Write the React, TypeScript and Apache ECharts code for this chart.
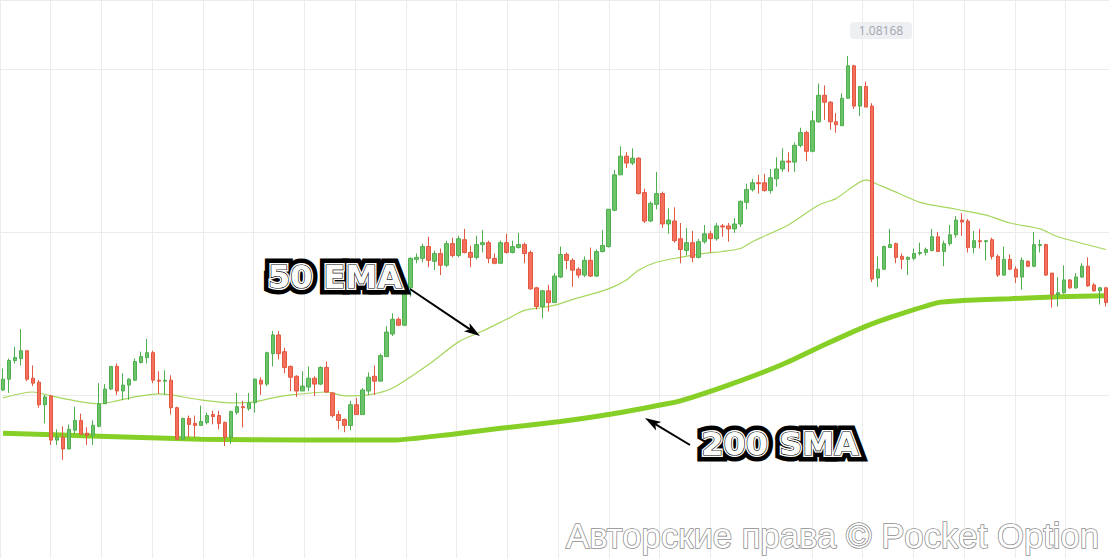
import React, { useEffect, useRef } from "react";
import * as echarts from "echarts";

// Candle prices
const opens = [
1.08108,1.08119,1.08138,1.08140,1.08148,1.08120,1.08116,1.08093,1.08102,1.08057,
1.08060,1.08048,1.08067,1.08077,1.08064,1.08062,1.08071,1.08094,1.08109,1.08132,
1.08107,1.08113,1.08118,1.08136,1.08141,1.08146,1.08118,1.08117,1.08118,1.08090,
1.08058,1.08079,1.08074,1.08072,1.08075,1.08083,1.08082,1.08075,1.08060,1.08085,
1.08091,1.08089,1.08095,1.08118,1.08114,1.08145,1.08164,1.08147,1.08132,1.08122,
1.08107,1.08111,1.08120,1.08114,1.08131,1.08105,1.08083,1.08078,1.08072,1.08093,
1.08083,1.08107,1.08122,1.08117,1.08142,1.08165,1.08180,1.08174,1.08212,1.08241,
1.08242,1.08254,1.08239,1.08247,1.08235,1.08257,1.08245,1.08261,1.08248,1.08243,
1.08256,1.08258,1.08242,1.08237,1.08258,1.08248,1.08253,1.08256,1.08248,1.08212,
1.08193,1.08209,1.08197,1.08223,1.08246,1.08240,1.08231,1.08225,1.08240,1.08224,
1.08249,1.08254,1.08291,1.08327,1.08346,1.08339,1.08344,1.08309,1.08280,1.08297,
1.08308,1.08277,1.08280,1.08262,1.08250,1.08258,1.08243,1.08259,1.08267,1.08262,
1.08275,1.08275,1.08272,1.08277,1.08299,1.08312,1.08319,1.08319,1.08311,1.08323,
1.08333,1.08341,1.08340,1.08357,1.08370,1.08351,1.08381,1.08408,1.08401,1.08381,
1.08377,1.08405,1.08438,1.08397,1.08417,1.08397,1.08222,1.08231,1.08253,1.08257,
1.08244,1.08241,1.08242,1.08247,1.08248,1.08250,1.08264,1.08249,1.08257,1.08266,
1.08281,1.08280,1.08253,1.08260,1.08259,1.08261,1.08244,1.08225,1.08241,1.08231,
1.08223,1.08239,1.08234,1.08255,1.08256,1.08227,1.08205,1.08207,1.08220,1.08212,
1.08223,1.08234,1.08215,1.08209,1.08212];

const closes = [
1.08119,1.08138,1.08141,1.08148,1.08119,1.08115,1.08093,1.08101,1.08057,1.08060,
1.08048,1.08068,1.08077,1.08063,1.08062,1.08072,1.08094,1.08109,1.08132,1.08107,
1.08113,1.08119,1.08137,1.08142,1.08146,1.08118,1.08117,1.08118,1.08090,1.08058,
1.08079,1.08073,1.08072,1.08076,1.08082,1.08081,1.08074,1.08060,1.08086,1.08091,
1.08090,1.08095,1.08119,1.08114,1.08146,1.08164,1.08145,1.08131,1.08121,1.08107,
1.08112,1.08120,1.08114,1.08131,1.08106,1.08082,1.08077,1.08072,1.08093,1.08083,
1.08108,1.08121,1.08117,1.08143,1.08167,1.08180,1.08174,1.08210,1.08242,1.08243,
1.08254,1.08240,1.08247,1.08235,1.08257,1.08245,1.08262,1.08248,1.08243,1.08256,
1.08258,1.08242,1.08237,1.08258,1.08248,1.08254,1.08256,1.08247,1.08211,1.08193,
1.08209,1.08197,1.08224,1.08246,1.08240,1.08230,1.08225,1.08240,1.08224,1.08249,
1.08255,1.08292,1.08327,1.08346,1.08339,1.08344,1.08308,1.08280,1.08298,1.08308,
1.08277,1.08281,1.08260,1.08251,1.08258,1.08243,1.08259,1.08267,1.08262,1.08275,
1.08274,1.08272,1.08277,1.08300,1.08312,1.08319,1.08318,1.08311,1.08324,1.08333,
1.08341,1.08340,1.08357,1.08370,1.08351,1.08382,1.08408,1.08401,1.08381,1.08378,
1.08405,1.08438,1.08397,1.08417,1.08396,1.08221,1.08231,1.08254,1.08256,1.08243,
1.08241,1.08243,1.08247,1.08248,1.08251,1.08264,1.08249,1.08257,1.08266,1.08281,
1.08279,1.08253,1.08260,1.08259,1.08260,1.08244,1.08225,1.08241,1.08231,1.08223,
1.08240,1.08234,1.08256,1.08256,1.08225,1.08205,1.08207,1.08220,1.08212,1.08223,
1.08234,1.08214,1.08209,1.08212,1.08197];

const lows = [
1.08107,1.08105,1.08135,1.08133,1.08117,1.08112,1.08090,1.08074,1.08052,1.08052,
1.08037,1.08048,1.08063,1.08063,1.08052,1.08052,1.08070,1.08094,1.08108,1.08103,
1.08098,1.08098,1.08117,1.08135,1.08135,1.08115,1.08104,1.08103,1.08083,1.08057,
1.08058,1.08060,1.08060,1.08072,1.08073,1.08073,1.08068,1.08051,1.08053,1.08083,
1.08070,1.08087,1.08085,1.08103,1.08112,1.08132,1.08139,1.08125,1.08107,1.08101,
1.08107,1.08107,1.08102,1.08113,1.08105,1.08080,1.08068,1.08065,1.08067,1.08083,
1.08083,1.08103,1.08103,1.08117,1.08142,1.08163,1.08173,1.08173,1.08203,1.08237,
1.08238,1.08233,1.08230,1.08225,1.08233,1.08243,1.08243,1.08247,1.08233,1.08241,
1.08248,1.08237,1.08236,1.08237,1.08247,1.08247,1.08252,1.08237,1.08210,1.08190,
1.08181,1.08188,1.08197,1.08222,1.08231,1.08213,1.08222,1.08223,1.08223,1.08223,
1.08248,1.08253,1.08290,1.08327,1.08334,1.08337,1.08307,1.08278,1.08279,1.08292,
1.08273,1.08267,1.08258,1.08237,1.08245,1.08238,1.08242,1.08257,1.08248,1.08260,
1.08264,1.08259,1.08268,1.08274,1.08292,1.08310,1.08308,1.08310,1.08308,1.08315,
1.08330,1.08330,1.08330,1.08355,1.08341,1.08350,1.08380,1.08383,1.08373,1.08370,
1.08377,1.08405,1.08394,1.08387,1.08396,1.08218,1.08213,1.08230,1.08253,1.08237,
1.08231,1.08225,1.08240,1.08245,1.08245,1.08249,1.08249,1.08234,1.08255,1.08263,
1.08265,1.08248,1.08247,1.08252,1.08240,1.08241,1.08223,1.08224,1.08230,1.08217,
1.08210,1.08233,1.08233,1.08248,1.08224,1.08192,1.08193,1.08206,1.08211,1.08211,
1.08222,1.08213,1.08208,1.08195,1.08193];

const highs = [
1.08130,1.08140,1.08152,1.08170,1.08148,1.08133,1.08118,1.08103,1.08103,1.08068,
1.08071,1.08073,1.08091,1.08084,1.08070,1.08077,1.08115,1.08114,1.08132,1.08135,
1.08125,1.08120,1.08140,1.08147,1.08160,1.08148,1.08127,1.08128,1.08123,1.08091,
1.08080,1.08082,1.08082,1.08092,1.08085,1.08087,1.08087,1.08076,1.08087,1.08105,
1.08097,1.08105,1.08120,1.08121,1.08147,1.08168,1.08168,1.08151,1.08133,1.08123,
1.08127,1.08132,1.08122,1.08132,1.08137,1.08106,1.08087,1.08079,1.08097,1.08100,
1.08110,1.08126,1.08133,1.08145,1.08173,1.08186,1.08182,1.08210,1.08243,1.08247,
1.08257,1.08264,1.08250,1.08252,1.08260,1.08263,1.08265,1.08272,1.08255,1.08265,
1.08271,1.08260,1.08247,1.08260,1.08267,1.08260,1.08268,1.08258,1.08250,1.08213,
1.08210,1.08215,1.08227,1.08254,1.08248,1.08242,1.08233,1.08244,1.08253,1.08251,
1.08271,1.08292,1.08332,1.08356,1.08350,1.08354,1.08345,1.08313,1.08300,1.08330,
1.08310,1.08293,1.08294,1.08278,1.08273,1.08270,1.08262,1.08276,1.08270,1.08278,
1.08277,1.08278,1.08283,1.08301,1.08318,1.08323,1.08327,1.08328,1.08333,1.08345,
1.08354,1.08350,1.08360,1.08375,1.08372,1.08392,1.08420,1.08418,1.08402,1.08390,
1.08410,1.08448,1.08439,1.08417,1.08422,1.08400,1.08244,1.08255,1.08272,1.08258,
1.08247,1.08244,1.08252,1.08258,1.08253,1.08272,1.08269,1.08260,1.08276,1.08285,
1.08288,1.08282,1.08270,1.08272,1.08260,1.08263,1.08246,1.08254,1.08246,1.08234,
1.08243,1.08240,1.08269,1.08261,1.08257,1.08227,1.08223,1.08235,1.08221,1.08227,
1.08237,1.08243,1.08217,1.08213,1.08213];

// 50 EMA read at selected candles
const emaIdx = [0,5,8,12,16,19,22,26,28,33,38,42,45,48,54,57,61,65,71,76,80,84,87,90,93,95,101,104,106,109,113,117,120,123,125,131,136,139,144,146,148,153,159,164,168,173,176,184];
const emaVal = [1.08100,1.08106,1.08102,1.08097,1.08094,1.08097,1.08101,1.08104,1.08103,1.08098,1.08095,1.08096,1.08100,1.08103,1.08106,1.08102,1.08103,1.08110,1.08134,1.08157,1.08168,1.08180,1.08189,1.08192,1.08196,1.08200,1.08211,1.08220,1.08230,1.08238,1.08243,1.08247,1.08249,1.08252,1.08259,1.08276,1.08296,1.08303,1.08322,1.08317,1.08312,1.08299,1.08292,1.08286,1.08278,1.08272,1.08264,1.08251];

// 200 SMA read at selected candles
const smaIdx = [0,16,33,50,65,75,83,93,101,109,113,121,130,137,144,148,156,160,168,176,184];
const smaVal = [1.08064,1.08061,1.08058,1.08057,1.08057,1.08063,1.08069,1.08076,1.08083,1.08092,1.08097,1.08113,1.08134,1.08154,1.08173,1.08182,1.08197,1.08199,1.08201,1.08203,1.08204];

const priceLabel = "1.08168";

export default function App() {
  const ref = useRef<HTMLDivElement>(null);
  useEffect(() => {
    if (!ref.current) return;
    const chart = echarts.init(ref.current, undefined, { renderer: "svg" });
    const categories = opens.map((_, i) => String(i));
    const candles = opens.map((o, i) => [o, closes[i], lows[i], highs[i]]);
    const emaData: (number | null)[] = categories.map(() => null);
    emaIdx.forEach((k, j) => (emaData[k] = emaVal[j]));
    const smaData: (number | null)[] = categories.map(() => null);
    smaIdx.forEach((k, j) => (smaData[k] = smaVal[j]));

    const hidden = {
      axisLine: { show: false },
      axisTick: { show: false },
      axisLabel: { show: false },
    };
    const font = 'bold 32px "DejaVu Sans"';
    const label = (text: string, x: number, y: number, z: number) => [
      { type: "text", x, y, z, style: { text, font, fill: "#000", stroke: "#000", lineWidth: 13, textAlign: "center", textVerticalAlign: "middle" } },
      { type: "text", x, y, z: z + 1, style: { text, font, fill: "#fff", stroke: "#fff", lineWidth: 4, textAlign: "center", textVerticalAlign: "middle" } },
      { type: "text", x, y, z: z + 2, style: { text, font, fill: "#fff", stroke: "#000", lineWidth: 1.2, textAlign: "center", textVerticalAlign: "middle" } },
    ];

    chart.setOption({
      animation: false,
      backgroundColor: "#ffffff",
      grid: [
        { left: 0, right: 0, top: -5, bottom: -5 },
        { left: -5, right: -5, top: -5, bottom: -5 },
      ],
      xAxis: [
        { type: "category", gridIndex: 0, data: categories, boundaryGap: true, show: false },
        { type: "value", gridIndex: 1, min: -18, max: 1101, interval: 51.2, ...hidden, splitLine: { show: true, lineStyle: { color: "#ebebeb", width: 1 } } },
      ],
      yAxis: [
        { type: "value", gridIndex: 0, min: 1.07937, max: 1.08505, show: false },
        { type: "value", gridIndex: 1, min: -165, max: 403, interval: 166, ...hidden, splitLine: { show: true, lineStyle: { color: "#ebebeb", width: 1 } } },
      ],
      series: [
        {
          type: "line", name: "200 SMA", xAxisIndex: 0, yAxisIndex: 0, data: smaData, connectNulls: true,
          smooth: 0.2, symbol: "none", lineStyle: { color: "#86cf26", width: 5 }, z: 2,
        },
        {
          type: "line", name: "50 EMA", xAxisIndex: 0, yAxisIndex: 0, data: emaData, connectNulls: true,
          smooth: 0.25, symbol: "none", lineStyle: { color: "#a6d65e", width: 1.2 }, z: 2,
        },
        {
          type: "candlestick", xAxisIndex: 0, yAxisIndex: 0, data: candles, barWidth: 4, z: 3,
          itemStyle: { color: "#6cc46a", color0: "#f4705c", borderColor: "#4fae4d", borderColor0: "#e2573f", borderWidth: 1 },
        },
      ],
      graphic: [
        { type: "rect", z: 50, shape: { x: 850, y: 22, width: 62, height: 17, r: 4 }, style: { fill: "#edeff2" } },
        { type: "text", z: 51, x: 881, y: 30.5, style: { text: priceLabel, font: '12px "Open Sans"', fill: "#a2a6ad", textAlign: "center", textVerticalAlign: "middle" } },
        { type: "line", z: 60, shape: { x1: 410, y1: 289, x2: 470, y2: 329.3 }, style: { stroke: "#000", lineWidth: 2 } },
        { type: "polygon", z: 60, shape: { points: [[480, 336], [463.9, 331.3], [470, 329.3], [469.5, 322.9]] }, style: { fill: "#000" } },
        { type: "line", z: 60, shape: { x1: 690, y1: 445, x2: 655.3, y2: 424.2 }, style: { stroke: "#000", lineWidth: 2 } },
        { type: "polygon", z: 60, shape: { points: [[645, 418], [661.3, 421.9], [655.3, 424.2], [656.1, 430.5]] }, style: { fill: "#000" } },
        ...label("50 EMA", 335, 277, 70),
        ...label("200 SMA", 780, 444, 70),
        { type: "text", z: 80, x: 566, y: 536, style: { text: "Авторские права © Pocket Option", font: '34.7px "Liberation Sans"', fill: "#ffffff", stroke: "#8e8e8e", lineWidth: 1.6, textAlign: "left", textVerticalAlign: "middle" } },
      ],
    });
    return () => chart.dispose();
  }, []);
  return <div ref={ref} style={{ position: "absolute", left: 0, top: 0, width: 1109, height: 558, background: "#fff" }} />;
}
